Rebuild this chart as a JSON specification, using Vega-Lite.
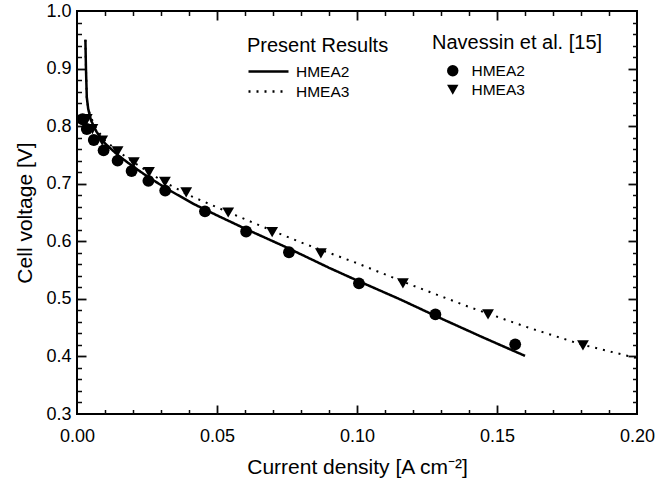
{
  "$schema": "https://vega.github.io/schema/vega-lite/v6.json",
  "width": 560,
  "height": 403,
  "autosize": {"type": "none"},
  "padding": {"left": 77, "top": 11, "right": 34, "bottom": 65},
  "background": "white",
  "config": {
    "view": {"stroke": "black", "strokeWidth": 2},
    "font": "Liberation Sans",
    "axis": {
      "grid": false,
      "domain": false,
      "ticks": true,
      "tickColor": "#0a0a0a",
      "tickWidth": 1.8,
      "tickOpacity": 1,
      "labelColor": "black",
      "labelFontSize": 18,
      "labelFlush": false,
      "labelOverlap": false,
      "titleColor": "black",
      "titleFontSize": 21,
      "titleFontWeight": "normal"
    },
    "legend": {
      "titleFontWeight": "normal",
      "titleColor": "black",
      "labelColor": "black"
    }
  },
  "datasets": {
    "model": [
      {"j": 0.003, "v": 0.95, "series": "HMEA2"},
      {"j": 0.0032, "v": 0.9, "series": "HMEA2"},
      {"j": 0.0035, "v": 0.85, "series": "HMEA2"},
      {"j": 0.004, "v": 0.83, "series": "HMEA2"},
      {"j": 0.005, "v": 0.81, "series": "HMEA2"},
      {"j": 0.007, "v": 0.79, "series": "HMEA2"},
      {"j": 0.01, "v": 0.77, "series": "HMEA2"},
      {"j": 0.015, "v": 0.748, "series": "HMEA2"},
      {"j": 0.02, "v": 0.73, "series": "HMEA2"},
      {"j": 0.025, "v": 0.713, "series": "HMEA2"},
      {"j": 0.0325, "v": 0.69, "series": "HMEA2"},
      {"j": 0.042, "v": 0.664, "series": "HMEA2"},
      {"j": 0.05, "v": 0.645, "series": "HMEA2"},
      {"j": 0.06, "v": 0.622, "series": "HMEA2"},
      {"j": 0.075, "v": 0.589, "series": "HMEA2"},
      {"j": 0.09, "v": 0.554, "series": "HMEA2"},
      {"j": 0.1, "v": 0.532, "series": "HMEA2"},
      {"j": 0.115, "v": 0.5, "series": "HMEA2"},
      {"j": 0.13, "v": 0.466, "series": "HMEA2"},
      {"j": 0.145, "v": 0.433, "series": "HMEA2"},
      {"j": 0.16, "v": 0.401, "series": "HMEA2"},
      {"j": 0.003, "v": 0.95, "series": "HMEA3"},
      {"j": 0.0032, "v": 0.9, "series": "HMEA3"},
      {"j": 0.0035, "v": 0.85, "series": "HMEA3"},
      {"j": 0.004, "v": 0.83, "series": "HMEA3"},
      {"j": 0.005, "v": 0.815, "series": "HMEA3"},
      {"j": 0.007, "v": 0.795, "series": "HMEA3"},
      {"j": 0.01, "v": 0.775, "series": "HMEA3"},
      {"j": 0.015, "v": 0.755, "series": "HMEA3"},
      {"j": 0.02, "v": 0.738, "series": "HMEA3"},
      {"j": 0.025, "v": 0.722, "series": "HMEA3"},
      {"j": 0.03, "v": 0.706, "series": "HMEA3"},
      {"j": 0.04, "v": 0.68, "series": "HMEA3"},
      {"j": 0.05, "v": 0.659, "series": "HMEA3"},
      {"j": 0.065, "v": 0.628, "series": "HMEA3"},
      {"j": 0.08, "v": 0.598, "series": "HMEA3"},
      {"j": 0.1, "v": 0.562, "series": "HMEA3"},
      {"j": 0.12, "v": 0.523, "series": "HMEA3"},
      {"j": 0.14, "v": 0.486, "series": "HMEA3"},
      {"j": 0.16, "v": 0.452, "series": "HMEA3"},
      {"j": 0.18, "v": 0.421, "series": "HMEA3"},
      {"j": 0.2, "v": 0.397, "series": "HMEA3"}
    ],
    "exp": [
      {"j": 0.002, "v": 0.812, "set": "HMEA2 "},
      {"j": 0.0035, "v": 0.795, "set": "HMEA2 "},
      {"j": 0.006, "v": 0.776, "set": "HMEA2 "},
      {"j": 0.0095, "v": 0.758, "set": "HMEA2 "},
      {"j": 0.0145, "v": 0.74, "set": "HMEA2 "},
      {"j": 0.0195, "v": 0.722, "set": "HMEA2 "},
      {"j": 0.0255, "v": 0.705, "set": "HMEA2 "},
      {"j": 0.0315, "v": 0.688, "set": "HMEA2 "},
      {"j": 0.0457, "v": 0.652, "set": "HMEA2 "},
      {"j": 0.0604, "v": 0.617, "set": "HMEA2 "},
      {"j": 0.0757, "v": 0.581, "set": "HMEA2 "},
      {"j": 0.1007, "v": 0.527, "set": "HMEA2 "},
      {"j": 0.128, "v": 0.473, "set": "HMEA2 "},
      {"j": 0.1565, "v": 0.421, "set": "HMEA2 "},
      {"j": 0.0035, "v": 0.812, "set": "HMEA3 "},
      {"j": 0.0055, "v": 0.795, "set": "HMEA3 "},
      {"j": 0.009, "v": 0.775, "set": "HMEA3 "},
      {"j": 0.0145, "v": 0.756, "set": "HMEA3 "},
      {"j": 0.0203, "v": 0.737, "set": "HMEA3 "},
      {"j": 0.0257, "v": 0.72, "set": "HMEA3 "},
      {"j": 0.0314, "v": 0.703, "set": "HMEA3 "},
      {"j": 0.039, "v": 0.685, "set": "HMEA3 "},
      {"j": 0.054, "v": 0.65, "set": "HMEA3 "},
      {"j": 0.0697, "v": 0.616, "set": "HMEA3 "},
      {"j": 0.0871, "v": 0.579, "set": "HMEA3 "},
      {"j": 0.1164, "v": 0.527, "set": "HMEA3 "},
      {"j": 0.1468, "v": 0.473, "set": "HMEA3 "},
      {"j": 0.1807, "v": 0.419, "set": "HMEA3 "}
    ]
  },
  "layer": [
    {
      "data": {"name": "model"},
      "transform": [{"filter": "datum.series == 'HMEA2'"}],
      "mark": {"type": "line", "color": "black", "strokeWidth": 2.5, "strokeCap": "butt"},
      "encoding": {
        "x": {
          "field": "j", "type": "quantitative",
          "scale": {"domain": [0, 0.2], "nice": false, "zero": false},
          "axis": {
            "orient": "bottom",
            "title": "Current density [A cm⁻²]",
            "values": [0, 0.05, 0.1, 0.15, 0.2],
            "format": ".2f",
            "ticks": false,
            "tickSize": 0,
            "labelPadding": 13,
            "titlePadding": 11
          }
        },
        "y": {
          "field": "v", "type": "quantitative",
          "scale": {"domain": [0.3, 1.0], "nice": false, "zero": false},
          "axis": {
            "orient": "left",
            "title": "Cell voltage [V]",
            "values": [0.3, 0.4, 0.5, 0.6, 0.7, 0.8, 0.9, 1.0],
            "format": ".1f",
            "ticks": false,
            "tickSize": 0,
            "labelPadding": 6,
            "titlePadding": 10
          }
        },
        "strokeDash": {
          "field": "series", "type": "nominal",
          "scale": {"domain": ["HMEA2", "HMEA3"], "range": [[1, 0], [2, 6]]},
          "legend": {
            "title": "Present Results",
            "orient": "none",
            "legendX": 170,
            "legendY": 25,
            "symbolType": "M-2,0H2",
            "symbolSize": 400,
            "symbolOffset": 10,
            "symbolStrokeWidth": 2.5,
            "symbolStrokeColor": "black",
            "rowPadding": -5,
            "titlePadding": 4,
            "labelOffset": 16,
            "labelFontSize": 15.5,
            "titleFontSize": 20
          }
        }
      }
    },
    {
      "data": {"name": "model"},
      "transform": [{"filter": "datum.series == 'HMEA3'"}],
      "mark": {"type": "line", "color": "black", "strokeWidth": 2, "strokeCap": "butt"},
      "encoding": {
        "x": {
          "field": "j", "type": "quantitative",
          "axis": {
            "orient": "bottom", "title": null, "labels": false,
            "values": [0.05, 0.1, 0.15],
            "ticks": true, "tickColor": "#0a0a0a", "tickWidth": 1.8, "offset": -9, "tickSize": 9
          }
        },
        "y": {
          "field": "v", "type": "quantitative",
          "axis": {
            "orient": "left", "title": null, "labels": false,
            "values": [0.4, 0.5, 0.6, 0.7, 0.8, 0.9],
            "ticks": true, "tickColor": "#0a0a0a", "tickWidth": 1.8, "offset": -9, "tickSize": 9
          }
        },
        "strokeDash": {
          "field": "series", "type": "nominal",
          "legend": {
            "title": "Present Results",
            "orient": "none",
            "legendX": 170,
            "legendY": 25,
            "symbolType": "M-2,0H2",
            "symbolSize": 400,
            "symbolOffset": 10,
            "symbolStrokeWidth": 2.5,
            "symbolStrokeColor": "black",
            "rowPadding": -5,
            "titlePadding": 4,
            "labelOffset": 16,
            "labelFontSize": 15.5,
            "titleFontSize": 20
          }
        }
      }
    },
    {
      "data": {"name": "exp"},
      "transform": [{"filter": "datum.set == 'HMEA2 '"}],
      "mark": {"type": "point", "filled": true, "color": "black", "opacity": 1, "size": 140},
      "encoding": {
        "x": {
          "field": "j", "type": "quantitative",
          "axis": {
            "orient": "bottom", "title": null, "labels": false,
            "values": [0.01, 0.02, 0.03, 0.04, 0.06, 0.07, 0.08, 0.09, 0.11, 0.12, 0.13, 0.14, 0.16, 0.17, 0.18, 0.19],
            "ticks": true, "tickColor": "#0a0a0a", "offset": -4.5, "tickSize": 4.5, "tickWidth": 1.5
          }
        },
        "y": {
          "field": "v", "type": "quantitative",
          "axis": {
            "orient": "left", "title": null, "labels": false,
            "values": [0.32, 0.34, 0.36, 0.38, 0.42, 0.44, 0.46, 0.48, 0.52, 0.54, 0.56, 0.58, 0.62, 0.64, 0.66, 0.68, 0.72, 0.74, 0.76, 0.78, 0.82, 0.84, 0.86, 0.88, 0.92, 0.94, 0.96, 0.98],
            "ticks": true, "tickColor": "#0a0a0a", "offset": -4.5, "tickSize": 4.5, "tickWidth": 1.5
          }
        },
        "shape": {
          "field": "set", "type": "nominal",
          "scale": {"domain": ["HMEA2 ", "HMEA3 "], "range": ["circle", "triangle-down"]},
          "legend": {
            "title": "Navessin et al. [15]",
            "orient": "none",
            "legendX": 355,
            "legendY": 22,
            "symbolFillColor": "black",
            "symbolStrokeColor": "black",
            "symbolSize": 130,
            "symbolOffset": 13,
            "rowPadding": 1,
            "titlePadding": 10,
            "labelOffset": 11,
            "labelFontSize": 15.5,
            "titleFontSize": 20
          }
        }
      }
    },
    {
      "data": {"name": "exp"},
      "transform": [{"filter": "datum.set == 'HMEA3 '"}],
      "mark": {"type": "point", "filled": true, "color": "black", "opacity": 1, "size": 140},
      "encoding": {
        "x": {
          "field": "j", "type": "quantitative",
          "axis": {
            "orient": "top", "title": null, "labels": false,
            "values": [0.05, 0.1, 0.15],
            "ticks": true, "tickColor": "#0a0a0a", "tickWidth": 1.8, "offset": -9, "tickSize": 9
          }
        },
        "y": {
          "field": "v", "type": "quantitative",
          "axis": {
            "orient": "right", "title": null, "labels": false,
            "values": [0.4, 0.5, 0.6, 0.7, 0.8, 0.9],
            "ticks": true, "tickColor": "#0a0a0a", "tickWidth": 1.8, "offset": -9, "tickSize": 9
          }
        },
        "shape": {
          "field": "set", "type": "nominal",
          "legend": {
            "title": "Navessin et al. [15]",
            "orient": "none",
            "legendX": 355,
            "legendY": 22,
            "symbolFillColor": "black",
            "symbolStrokeColor": "black",
            "symbolSize": 130,
            "symbolOffset": 13,
            "rowPadding": 1,
            "titlePadding": 10,
            "labelOffset": 11,
            "labelFontSize": 15.5,
            "titleFontSize": 20
          }
        }
      }
    },
    {
      "data": {"name": "exp"},
      "mark": {"type": "point", "filled": true, "color": "black", "opacity": 0, "size": 140},
      "encoding": {
        "x": {
          "field": "j", "type": "quantitative",
          "axis": {
            "orient": "top", "title": null, "labels": false,
            "values": [0.01, 0.02, 0.03, 0.04, 0.06, 0.07, 0.08, 0.09, 0.11, 0.12, 0.13, 0.14, 0.16, 0.17, 0.18, 0.19],
            "ticks": true, "tickColor": "#0a0a0a", "offset": -4.5, "tickSize": 4.5, "tickWidth": 1.5
          }
        },
        "y": {
          "field": "v", "type": "quantitative",
          "axis": {
            "orient": "right", "title": null, "labels": false,
            "values": [0.32, 0.34, 0.36, 0.38, 0.42, 0.44, 0.46, 0.48, 0.52, 0.54, 0.56, 0.58, 0.62, 0.64, 0.66, 0.68, 0.72, 0.74, 0.76, 0.78, 0.82, 0.84, 0.86, 0.88, 0.92, 0.94, 0.96, 0.98],
            "ticks": true, "tickColor": "#0a0a0a", "offset": -4.5, "tickSize": 4.5, "tickWidth": 1.5
          }
        }
      }
    }
  ],
  "resolve": {"axis": {"x": "independent", "y": "independent"}}
}
